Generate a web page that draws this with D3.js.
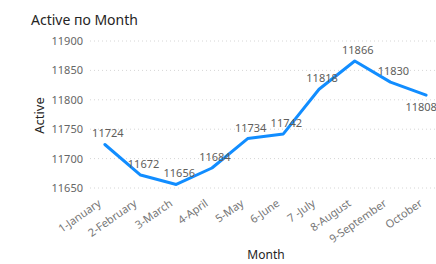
<!DOCTYPE html>
<html>
<head>
<meta charset="utf-8">
<script src="https://cdn.jsdelivr.net/npm/d3@7"></script>
<style>
  html, body { margin: 0; padding: 0; background: #fff; }
  #chart { width: 436px; height: 264px; }
  text { font-family: "Noto Sans", "Open Sans", sans-serif; }
</style>
</head>
<body>
<div id="chart"></div>
<script>
  var months = ['1-January', '2-February', '3-March', '4-April', '5-May', '6-June',
    '7 -July', '8-August', '9-September', 'October'];
  var active = [11724, 11672, 11656, 11684, 11734, 11742, 11818, 11866, 11830, 11808];
  var yTicks = [11650, 11700, 11750, 11800, 11850, 11900];

  var W = 436, H = 264;
  var margin = { top: 41, right: 0, bottom: 76, left: 87 };
  var plotW = 357;
  var plotH = H - margin.top - margin.bottom;

  var svg = d3.select('#chart').append('svg')
    .attr('width', W)
    .attr('height', H);

  svg.append('text')
    .attr('x', 31)
    .attr('y', 25)
    .style('font-size', '14px')
    .style('fill', '#252423')
    .text('Active по Month');

  var g = svg.append('g')
    .attr('transform', 'translate(' + margin.left + ',' + margin.top + ')');

  var x = d3.scaleBand()
    .domain(months)
    .range([0, plotW]);

  var y = d3.scaleLinear()
    .domain([11650, 11900])
    .range([plotH, 0]);

  // gridlines
  g.append('g')
    .selectAll('line')
    .data(yTicks)
    .enter()
    .append('line')
    .attr('x1', 3)
    .attr('x2', W - margin.left)
    .attr('y1', function (d) { return y(d); })
    .attr('y2', function (d) { return y(d); })
    .attr('stroke', '#d6d6d6')
    .attr('stroke-dasharray', '1,3')
    .attr('stroke-width', 1);

  var yAxis = g.append('g')
    .call(d3.axisLeft(y).tickValues(yTicks).tickSize(0).tickPadding(4).tickFormat(d3.format('d')));
  yAxis.select('.domain').remove();
  yAxis.selectAll('text')
    .style('font-size', '11px')
    .style('fill', '#666')
    .style('font-family', '"Noto Sans", sans-serif');

  var xAxis = g.append('g')
    .attr('transform', 'translate(0,' + plotH + ')')
    .call(d3.axisBottom(x).tickSize(0).tickPadding(0));
  xAxis.select('.domain').remove();
  xAxis.selectAll('text')
    .style('font-size', '11px')
    .style('fill', '#777')
    .style('font-family', '"Noto Sans", sans-serif')
    .attr('text-anchor', 'end')
    .attr('dy', null)
    .attr('y', 0)
    .attr('transform', 'translate(-3,17) rotate(-35)');

  var line = d3.line()
    .x(function (d, i) { return x(months[i]) + x.bandwidth() / 2; })
    .y(function (d) { return y(d); });

  g.append('path')
    .datum(active)
    .attr('d', line)
    .attr('fill', 'none')
    .attr('stroke', '#118DFF')
    .attr('stroke-width', 3)
    .attr('stroke-linejoin', 'round')
    .attr('stroke-linecap', 'round');

  g.append('g')
    .selectAll('text')
    .data(active)
    .enter()
    .append('text')
    .attr('x', function (d, i) {
      var last = i === months.length - 1;
      return x(months[i]) + x.bandwidth() / 2 + (last ? -5 : 3);
    })
    .attr('y', function (d, i) {
      var below = i === months.length - 1;
      return y(d) + (below ? 16 : -7);
    })
    .attr('text-anchor', 'middle')
    .style('font-size', '11px')
    .style('fill', '#605E5C')
    .text(function (d) { return d; });

  svg.append('text')
    .attr('transform', 'translate(44,' + (margin.top + plotH / 2 + 1) + ') rotate(-90)')
    .attr('text-anchor', 'middle')
    .style('font-size', '13px')
    .style('fill', '#252423')
    .text('Active');

  svg.append('text')
    .attr('x', 266)
    .attr('y', 259)
    .attr('text-anchor', 'middle')
    .style('font-size', '12px')
    .style('fill', '#252423')
    .text('Month');
</script>
</body>
</html>
